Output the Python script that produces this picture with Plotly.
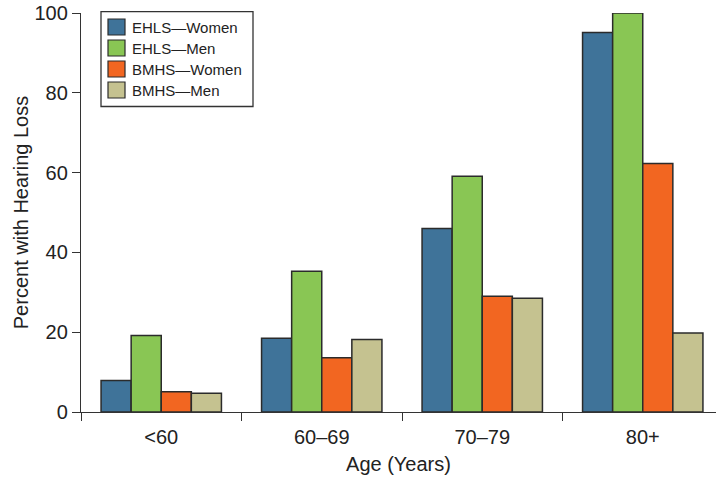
import plotly.graph_objects as go

# ---- data ----
age_groups = ["<60", "60–69", "70–79", "80+"]
series_names = ["EHLS—Women", "EHLS—Men", "BMHS—Women", "BMHS—Men"]
ehls_women = [7.9, 18.5, 46.0, 95.1]
ehls_men = [19.2, 35.3, 59.1, 100.0]
bmhs_women = [5.1, 13.6, 29.0, 62.3]
bmhs_men = [4.7, 18.2, 28.5, 19.8]
series_values = [ehls_women, ehls_men, bmhs_women, bmhs_men]
series_colors = ["#3F7399", "#89C654", "#F26621", "#C5C290"]
y_ticks = [0, 20, 40, 60, 80, 100]

W, H = 716, 484
L, R, T, B = 81, 0, 13, 72
FONT = "Liberation Sans, Arial, Helvetica, sans-serif"
INK = "#222222"
LINE = "#333333"
CAT_PX = 160.5

fig = go.Figure()
for name, vals, col in zip(series_names, series_values, series_colors):
    fig.add_trace(go.Bar(
        x=age_groups, y=vals, name=name, showlegend=False,
        marker=dict(color=col, line=dict(color="#2b2b2b", width=1.5)),
    ))

# pixel -> paper helpers
pw, ph = W - L - R, H - T - B
def px(x):
    return (x - L) / pw
def py(y):
    return (H - B - y) / ph

shapes = []
annotations = []
# legend box
shapes.append(dict(type="rect", xref="paper", yref="paper",
                   x0=px(101), x1=px(253), y0=py(106.5), y1=py(11.7),
                   line=dict(color=LINE, width=1.3), fillcolor="white", layer="above"))
row_centers = [27, 48, 69, 90]
for name, col, cy in zip(series_names, series_colors, row_centers):
    shapes.append(dict(type="rect", xref="paper", yref="paper",
                       x0=px(108), x1=px(125), y0=py(cy + 8), y1=py(cy - 8),
                       line=dict(color="#2b2b2b", width=1.2), fillcolor=col, layer="above"))
    annotations.append(dict(xref="paper", yref="paper", x=px(130), y=py(cy),
                            text=name, showarrow=False, xanchor="left", yanchor="middle",
                            font=dict(family=FONT, size=15, color=INK)))

fig.update_layout(
    width=W, height=H,
    margin=dict(l=L, r=R, t=T, b=B, pad=0),
    paper_bgcolor="white", plot_bgcolor="white",
    barmode="group", bargap=0.25, bargroupgap=0,
    font=dict(family=FONT, size=20, color=INK),
    shapes=shapes, annotations=annotations,
    xaxis=dict(
        range=[-0.5, -0.5 + pw / CAT_PX],
        showline=True, linecolor=LINE, linewidth=1.3,
        ticks="outside", tickson="boundaries", ticklen=8, tickcolor=LINE, tickwidth=1.3,
        showgrid=False, zeroline=False, ticklabelstandoff=7,
        tickfont=dict(size=20, color=INK),
        title=dict(text="Age (Years)", font=dict(size=20, color=INK), standoff=9),
    ),
    yaxis=dict(
        range=[0, 100], tickvals=y_ticks,
        showline=True, linecolor=LINE, linewidth=1.3,
        ticks="outside", ticklen=8, tickcolor=LINE, tickwidth=1.3,
        showgrid=False, zeroline=False,
        tickfont=dict(size=20, color=INK),
        title=dict(text="Percent with Hearing Loss", font=dict(size=20, color=INK), standoff=0),
    ),
)

fig.write_html("out.html", config={"displayModeBar": False},
               post_script="document.body.style.margin='0';document.body.style.overflow='hidden';")
